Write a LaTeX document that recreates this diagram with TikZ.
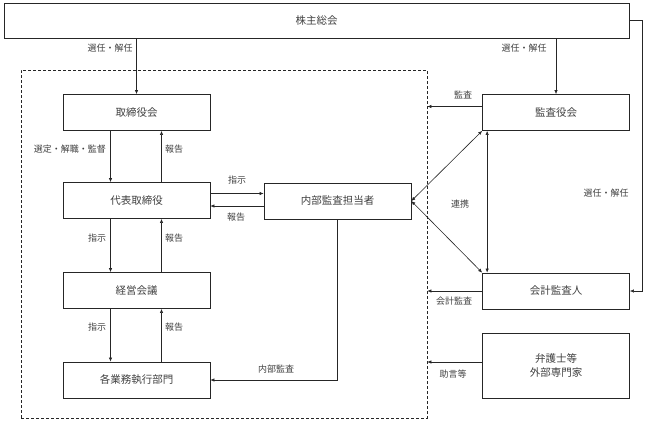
\documentclass[tikz,border=0pt]{standalone}
\usepackage{fontspec}
\setmainfont{Noto Sans CJK JP}
\usepackage{tikz}
\usetikzlibrary{arrows.meta}

\begin{document}
\begin{tikzpicture}[x=1pt,y=1pt,
  box/.style={draw=black!85, line width=0.7pt, minimum width=147pt, minimum height=36pt, inner sep=0pt, font=\fontsize{10.5}{13.5}\selectfont, text=black!75},
  lbl/.style={inner sep=0pt, font=\fontsize{9}{11}\selectfont, text=black!75},
  arr/.style={draw=black!85, -{Latex[length=4pt,width=3.4pt]}, line width=0.6pt},
  both/.style={draw=black!85, {Latex[length=4pt,width=3.4pt]}-{Latex[length=4pt,width=3.4pt]}, line width=0.6pt}]
\useasboundingbox (0,0) rectangle (649,-424);
% boxes
\node [box, minimum width=625pt, minimum height=35pt] (soukai) at (316.5,-20.5) {株主総会};
\node [draw=black!85, dash pattern=on 3pt off 2pt, line width=0.6pt, minimum width=406pt, minimum height=348pt, inner sep=0pt] (group) at (224,-244) {};
\node [box] (torishimari) at (136.5,-112.5) {取締役会};
\node [box] (daihyo) at (136.5,-200.5) {代表取締役};
\node [box] (keiei) at (136.5,-290.5) {経営会議};
\node [box] (gyomu) at (136.5,-380) {各業務執行部門};
\node [box] (naibu) at (337.5,-201) {内部監査担当者};
\node [box] (kansa) at (556,-112.5) {監査役会};
\node [box] (kaikei) at (556,-291) {会計監査人};
\node [box, minimum height=65pt, align=center] (bengo) at (556,-365.5) {弁護士等\\外部専門家};
% connectors
\draw [arr] (soukai.south -| torishimari) -- (torishimari.north);
\draw [arr] (soukai.south -| kansa) -- (kansa.north);
\draw [arr] (soukai.east) -- ++(13,0) |- (kaikei.east);
\draw [arr] ([xshift=-26]torishimari.south) -- ([xshift=-26]daihyo.north);
\draw [arr] ([xshift=25]daihyo.north) -- ([xshift=25]torishimari.south);
\draw [arr] ([xshift=-26]daihyo.south) -- ([xshift=-26]keiei.north);
\draw [arr] ([xshift=25]keiei.north) -- ([xshift=25]daihyo.south);
\draw [arr] ([xshift=-26]keiei.south) -- ([xshift=-26]gyomu.north);
\draw [arr] ([xshift=25]gyomu.north) -- ([xshift=25]keiei.south);
\draw [arr] ([yshift=7]daihyo.east) -- ([yshift=7]daihyo.east -| naibu.west);
\draw [arr] ([yshift=-5]naibu.west) -- ([yshift=-5]naibu.west -| daihyo.east);
\draw [arr] (naibu.south) |- (gyomu.east);
\draw [both] (naibu.east) -- (kansa.south west);
\draw [both] (naibu.east) -- (kaikei.north west);
\draw [both] ([xshift=5]kansa.south west) -- ([xshift=5]kaikei.north west);
\draw [arr] ([yshift=6]kansa.west) -- ([yshift=6]kansa.west -| group.east);
\draw [arr] (kaikei.west) -- (kaikei.west -| group.east);
\draw [arr] ([yshift=3.5]bengo.west) -- ([yshift=3.5]bengo.west -| group.east);
% labels
\node [lbl] (l_sennin1) at (110,-48) {選任・解任};
\node [lbl] (l_sennin2) at (524,-48) {選任・解任};
\node [lbl] (l_sentei) at (70,-149) {選定・解職・監督};
\node [lbl] (l_hokoku1) at (174,-149) {報告};
\node [lbl] (l_shiji1) at (97,-238) {指示};
\node [lbl] (l_hokoku2) at (174,-238) {報告};
\node [lbl] (l_shiji2) at (97,-327) {指示};
\node [lbl] (l_hokoku3) at (174,-327) {報告};
\node [lbl] (l_shiji3) at (237,-180) {指示};
\node [lbl] (l_hokoku4) at (236,-217) {報告};
\node [lbl] (l_naibu) at (276,-369) {内部監査};
\node [lbl] (l_kansa) at (463,-95) {監査};
\node [lbl] (l_renkei) at (460,-204) {連携};
\node [lbl] (l_sennin3) at (606,-193) {選任・解任};
\node [lbl] (l_kaikei) at (454,-301) {会計監査};
\node [lbl] (l_jogen) at (453,-374) {助言等};
\end{tikzpicture}
\end{document}
